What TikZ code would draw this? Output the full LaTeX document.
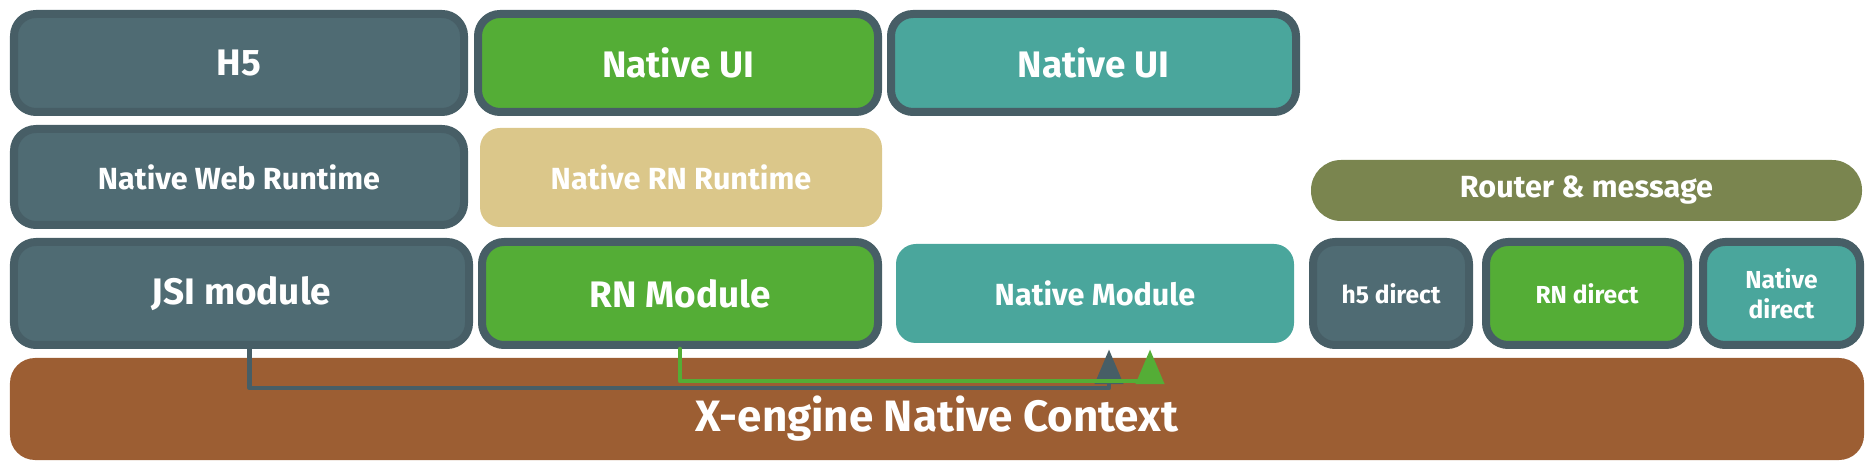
\documentclass[tikz,border=0pt]{standalone}
\usepackage{fontspec}
\setmainfont{Fira Sans}
\usetikzlibrary{arrows}
\definecolor{ttwwww}{rgb}{0.28,0.37,0.4}
\definecolor{wwwwww}{rgb}{0.31,0.42,0.45}
\definecolor{ttzztt}{rgb}{0.33,0.68,0.21}
\definecolor{ttzzzz}{rgb}{0.29,0.65,0.61}
\definecolor{cccczz}{rgb}{0.86,0.78,0.54}
\definecolor{wwwwtt}{rgb}{0.48,0.52,0.31}
\definecolor{zzwwtt}{rgb}{0.61,0.37,0.2}

\begin{document}
\begin{tikzpicture}[line cap=round,line join=round,>=triangle 45,x=1cm,y=1cm,
        box/.style={text=white,font=\bfseries,rounded corners=0.2cm,inner sep=0pt,align=center},
        rough/.style={box,draw=ttwwww,line width=0.08cm,rounded corners=0.22cm},
        big/.style={font=\bfseries\fontsize{10.5}{12}\selectfont},
        mid/.style={font=\bfseries\fontsize{8.7}{10}\selectfont},
        small/.style={font=\bfseries\fontsize{7}{8.5}\selectfont}]
        \useasboundingbox (0,0) rectangle (18.74,4.62);
        % top row
        \node[rough,big,fill=wwwwww,minimum width=4.5cm,minimum height=0.98cm] (h5) at (2.39,3.99) {H5};
        \node[rough,big,fill=ttzztt,minimum width=4.0cm,minimum height=0.98cm] (rnui) at (6.78,3.99) {Native UI};
        \node[rough,big,fill=ttzzzz,minimum width=4.05cm,minimum height=0.98cm] (natui) at (10.935,3.99) {Native UI};
        % runtimes
        \node[rough,mid,fill=wwwwww,minimum width=4.5cm,minimum height=0.96cm] (webrt) at (2.39,2.85) {Native Web Runtime};
        \node[box,mid,fill=cccczz,minimum width=4.02cm,minimum height=0.99cm] (rnrt) at (6.81,2.845) {Native RN Runtime};
        \node[box,mid,fill=wwwwtt,rounded corners=0.3cm,minimum width=5.51cm,minimum height=0.61cm] (router) at (15.865,2.715) {Router \& message};
        % modules
        \node[rough,big,fill=wwwwww,minimum width=4.55cm,minimum height=1.03cm] (jsi) at (2.415,1.685) {JSI module};
        \node[rough,big,fill=ttzztt,minimum width=3.96cm,minimum height=1.03cm] (rnmod) at (6.80,1.685) {RN Module};
        \node[box,mid,fill=ttzzzz,minimum width=3.98cm,minimum height=0.99cm] (natmod) at (10.95,1.685) {Native Module};
        \node[rough,small,fill=wwwwww,minimum width=1.56cm,minimum height=1.03cm] (h5dir) at (13.91,1.685) {h5 direct};
        \node[rough,small,fill=ttzztt,minimum width=2.02cm,minimum height=1.03cm] (rndir) at (15.87,1.685) {RN direct};
        \node[rough,small,fill=ttzzzz,minimum width=1.57cm,minimum height=1.03cm] (natdir) at (17.815,1.685) {Native\\direct};
        % context
        \node[box,fill=zzwwtt,rounded corners=0.25cm,minimum width=18.54cm,minimum height=1.02cm,font=\bfseries\fontsize{12.5}{14}\selectfont] (ctx) at (9.37,0.53) {\raisebox{-0.22cm}[0pt][0pt]{X-engine Native Context}};
        \coordinate (jsiin) at ([xshift=0.14cm,yshift=-0.06cm]natmod.south);
        \coordinate (rnin) at ([xshift=0.55cm,yshift=-0.06cm]natmod.south);
        \draw[->,color=ttwwww,line width=0.045cm] ([xshift=0.08cm]jsi.south) -- ([xshift=0.08cm]jsi.south |- 0,0.74) -| (jsiin);
        \draw[->,color=ttzztt,line width=0.045cm] (rnmod.south) -- (rnmod.south |- 0,0.81) -| (rnin);
    \end{tikzpicture}
\end{document}
